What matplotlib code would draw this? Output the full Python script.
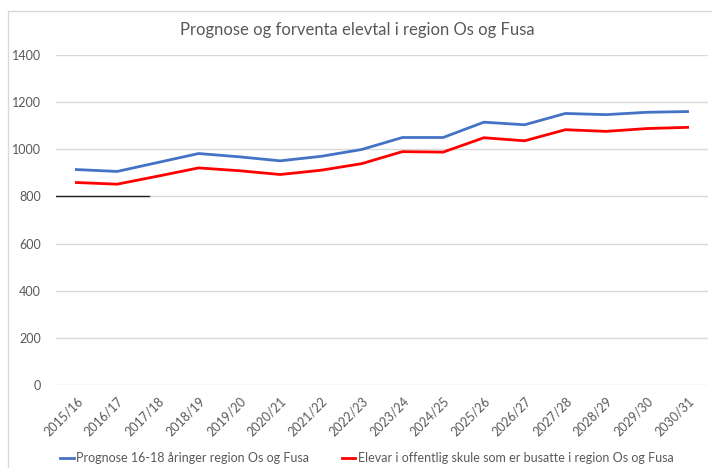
import matplotlib
matplotlib.use("Agg")
from matplotlib import pyplot as plt
from matplotlib.patches import Rectangle

years = ["2015/16", "2016/17", "2017/18", "2018/19", "2019/20", "2020/21", "2021/22", "2022/23",
         "2023/24", "2024/25", "2025/26", "2026/27", "2027/28", "2028/29", "2029/30", "2030/31"]
prognose = [914, 906, 944, 982, 968, 951, 970, 999, 1050, 1050, 1115, 1104, 1152, 1147, 1157, 1160]
elevar = [859, 852, 886, 921, 909, 893, 911, 939, 990, 988, 1049, 1036, 1083, 1076, 1088, 1093]
yticks = [0, 200, 400, 600, 800, 1000, 1200, 1400]

plt.rcParams["font.family"] = ["Lato", "DejaVu Sans"]
grey = "#595959"

fig = plt.figure(figsize=(7.12, 4.68), dpi=100)
# chart area border (only top/left visible in crop)
fig.patches.append(Rectangle((8 / 712, -0.1), 1.2, 1 - 11 / 468 + 0.1, transform=fig.transFigure,
                             fill=False, edgecolor="#D9D9D9", linewidth=1))
ax = fig.add_axes([56 / 712, 1 - 385 / 468, 652 / 712, 330 / 468])

xs = range(len(years))
ax.plot(xs, prognose, color="#4472C4", linewidth=2, label="Prognose 16-18 åringer region Os og Fusa")
ax.plot(xs, elevar, color="#FF0000", linewidth=2, label="Elevar i offentlig skule som er busatte i region Os og Fusa")

# stray black stroke over the 800 gridline
ax.plot([0, 0.142], [800, 800], color="#222222", linewidth=1, transform=ax.get_yaxis_transform(), zorder=3)

ax.set_xlim(-0.5, len(years) - 0.5)
ax.set_ylim(0, 1400)
ax.set_yticks(yticks)
ax.set_xticks(list(xs))
ax.set_xticklabels(years, rotation=45, ha="right", rotation_mode="anchor")
ax.tick_params(axis="both", length=0, colors=grey, labelsize=9)
ax.tick_params(axis="y", pad=11)
ax.tick_params(axis="x", pad=7)
for s in ax.spines.values():
    s.set_visible(False)
ax.grid(axis="y", color="#D9D9D9", linewidth=1)
ax.set_axisbelow(True)

fig.text(0.502, 1 - 30 / 468, "Prognose og forventa elevtal i region Os og Fusa", ha="center", va="center",
         fontsize=12, color=grey)
fig.legend(loc="center", bbox_to_anchor=(0.515, 1 - 458 / 468), ncol=2, frameon=False, fontsize=9,
           handlelength=1.1, handletextpad=0.2, columnspacing=2.6, labelcolor=grey)

fig.savefig("out.png", dpi=100)
